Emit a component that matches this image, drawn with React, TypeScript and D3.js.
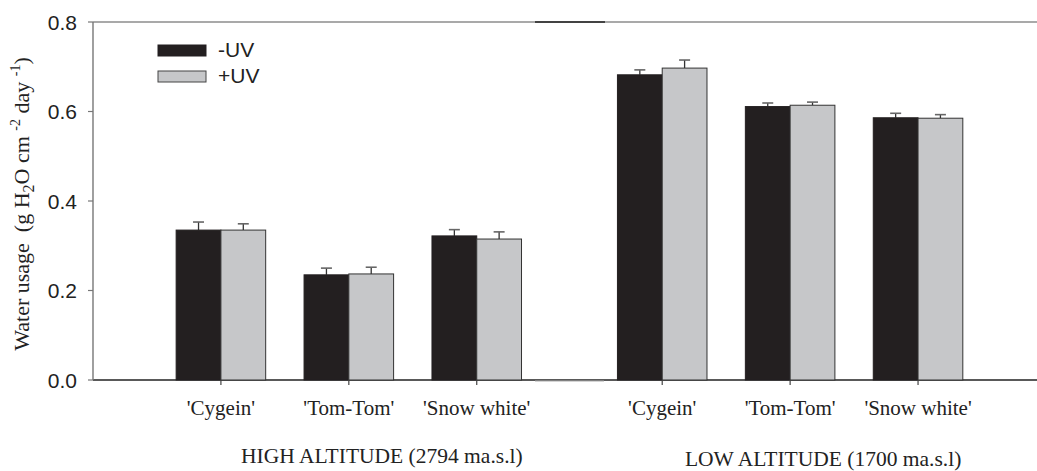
import React from "react";
import * as d3 from "d3";

const cultivars = ["'Cygein'", "'Tom-Tom'", "'Snow white'"];
const sites = ["HIGH ALTITUDE (2794 ma.s.l)", "LOW ALTITUDE (1700 ma.s.l)"];
const seriesNames = ["-UV", "+UV"];
// order: high Cygein, Tom-Tom, Snow white, low Cygein, Tom-Tom, Snow white
const minusUV = [0.335, 0.235, 0.322, 0.682, 0.611, 0.586];
const plusUV = [0.335, 0.237, 0.315, 0.697, 0.614, 0.585];
const minusErr = [0.018, 0.015, 0.014, 0.011, 0.008, 0.010];
const plusErr = [0.014, 0.015, 0.016, 0.018, 0.007, 0.008];
const yTicks = [0, 0.2, 0.4, 0.6, 0.8];

const W = 1037;
const H = 471;
const SANS = "'Liberation Sans', Arial, sans-serif";
const SERIF = "'Liberation Serif', 'Times New Roman', serif";
const BLACK = "#231f20";
const GREY = "#c6c7c9";

export default function App() {
  const left = 93;
  const top = 22;
  const bottom = 380;
  const groupGap = 0.45;
  const x = d3.scaleLinear().domain([-1, 6.38]).range([left, W]);
  const y = d3.scaleLinear().domain([0, 0.8]).range([bottom, top]);
  const pos = (i: number) => (i < 3 ? i : i + groupGap);
  const bw = x(0.35) - x(0);

  const items = minusUV.map((v, i) => ({
    i,
    label: cultivars[i % 3],
    c: x(pos(i)),
    vals: [
      { v, e: minusErr[i], fill: BLACK, stroke: "#231f20" },
      { v: plusUV[i], e: plusErr[i], fill: GREY, stroke: "#333" },
    ],
  }));

  return (
    <div style={{ position: "fixed", left: 0, top: 0 }}>
      <svg width={W} height={H} style={{ display: "block", background: "#fff" }}>
        {/* frame */}
        <line x1={left} x2={W} y1={top} y2={top} stroke="#555" strokeWidth={1.2} />
        <line x1={535} x2={605} y1={top} y2={top} stroke="#222" strokeWidth={1.4} />
        <line x1={left} x2={W} y1={bottom} y2={bottom} stroke="#222" strokeWidth={1.4} />
        <line x1={535} x2={604} y1={bottom + 1} y2={bottom + 1} stroke="#aaa" strokeWidth={1} />
        <line x1={left} x2={left} y1={top} y2={bottom} stroke="#777" strokeWidth={1.4} />

        {/* y ticks */}
        {yTicks.map((t) => (
          <g key={t}>
            <line x1={left - 5} x2={left} y1={y(t)} y2={y(t)} stroke="#777" strokeWidth={1.2} />
            <text
              x={77}
              y={y(t)}
              dy="0.36em"
              textAnchor="end"
              fontFamily={SANS}
              fontSize={21}
              fill="#222"
            >
              {t.toFixed(1)}
            </text>
          </g>
        ))}

        {/* bars */}
        {items.map((it) => (
          <g key={it.i}>
            {it.vals.map((s, k) => {
              const x0 = k === 0 ? it.c - bw : it.c;
              const yt = y(s.v);
              const ye = y(s.v + s.e);
              const mid = x0 + bw / 2;
              return (
                <g key={k}>
                  <line x1={mid} x2={mid} y1={yt} y2={ye} stroke="#333" strokeWidth={1.3} />
                  <line x1={mid - 5.5} x2={mid + 5.5} y1={ye} y2={ye} stroke="#666" strokeWidth={1.6} />
                  <rect
                    x={x0}
                    y={yt}
                    width={bw}
                    height={bottom - yt}
                    fill={s.fill}
                    stroke={s.stroke}
                    strokeWidth={1}
                  />
                </g>
              );
            })}
            <line x1={it.c} x2={it.c} y1={bottom} y2={bottom + 5} stroke="#444" strokeWidth={1.2} />
            <text
              x={it.c}
              y={415}
              textAnchor="middle"
              fontFamily={SERIF}
              fontSize={21}
              fill="#222"
            >
              {it.label}
            </text>
          </g>
        ))}

        {/* site labels */}
        {sites.map((s, g) => (
          <text
            key={s}
            x={x(pos(g * 3 + 1)) + 33}
            y={g === 0 ? 463 : 466}
            textAnchor="middle"
            fontFamily={SERIF}
            fontSize={21.5}
            fill="#222"
          >
            {s}
          </text>
        ))}

        {/* legend */}
        {seriesNames.map((n, k) => (
          <g key={n}>
            <rect
              x={158}
              y={45 + k * 26}
              width={48}
              height={11}
              fill={k === 0 ? BLACK : GREY}
              stroke={k === 0 ? BLACK : "#444"}
              strokeWidth={1}
            />
            <text x={218} y={57 + k * 26} fontFamily={SANS} fontSize={21} fill="#222">
              {n}
            </text>
          </g>
        ))}

        {/* y label */}
        <text
          transform="translate(29,204) rotate(-90)"
          textAnchor="middle"
          fontFamily={SERIF}
          fontSize={22}
          fill="#222"
          style={{ whiteSpace: "pre" }}
        >
          <tspan>{"Water usage  (g H"}</tspan>
          <tspan fontSize={16} dy={5}>2</tspan>
          <tspan dy={-5}>{"O cm "}</tspan>
          <tspan fontSize={14} dy={-9}>-2</tspan>
          <tspan dy={9}>{" day "}</tspan>
          <tspan fontSize={14} dy={-9}>-1</tspan>
          <tspan dy={9}>)</tspan>
        </text>
      </svg>
    </div>
  );
}
